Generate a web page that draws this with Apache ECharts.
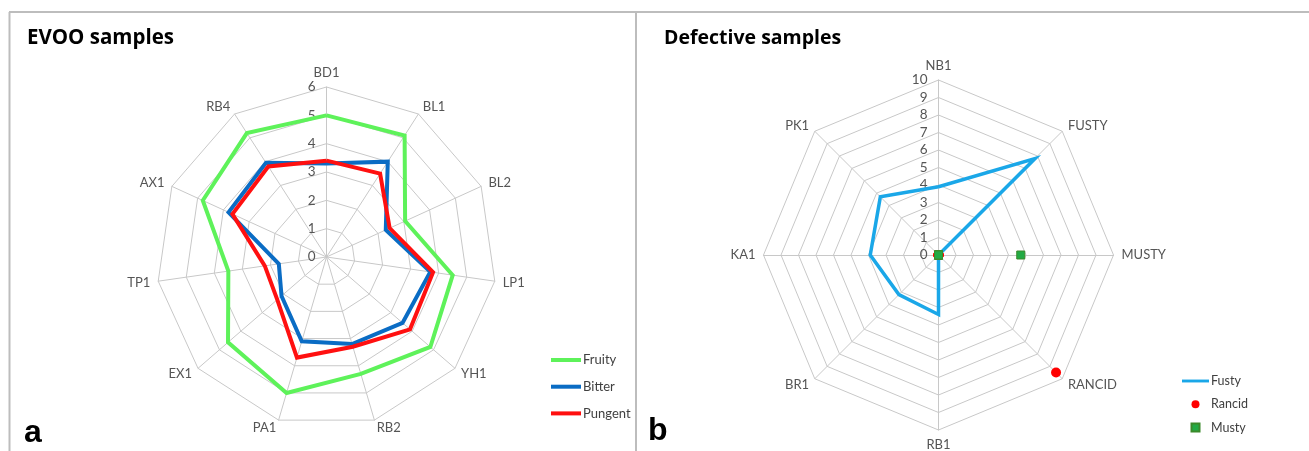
<!DOCTYPE html>
<html><head><meta charset="utf-8">
<script src="https://cdn.jsdelivr.net/npm/echarts@6/dist/echarts.min.js"></script>
<style>html,body{margin:0;padding:0;background:#fff}#c{width:1309px;height:451px}</style>
</head><body><div id="c"></div>
<script>
// ---- Panel a: EVOO samples (clockwise order, starting at top) ----
const evooAxes = ['BD1','BL1','BL2','LP1','YH1','RB2','PA1','EX1','TP1','AX1','RB4'];
const fruity  = [5.0, 5.1, 3.05, 4.5, 4.85, 4.3, 5.0, 4.6, 3.5, 4.8, 5.2];
const bitter  = [3.3, 4.0, 2.3, 3.7, 3.55, 3.2, 3.1, 2.1, 1.7, 3.8, 3.95];
const pungent = [3.4, 3.5, 2.45, 3.8, 3.9, 3.3, 3.7, 2.3, 2.2, 3.65, 3.8];
const evooMax = 6;

// ---- Panel b: Defective samples ----
const defAxes = ['NB1','FUSTY','MUSTY','RANCID','RB1','BR1','KA1','PK1'];
const fusty  = [3.9, 7.8, 0, 0, 3.4, 3.2, 3.9, 4.7];
const rancid = [0, 0, 0, 9.5, 0, 0, 0, 0];
const musty  = [0, 0, 4.7, 0, 0, 0, 0, 0];
const defMax = 10;

// ECharts radar runs counter-clockwise; reorder so it reads clockwise like the source
const ccw = a => [a[0]].concat(a.slice(1).reverse());

const gridColor = '#c8c8c8';
const labelColor = '#555555';

function indicators(names, max) {
  return ccw(names).map((n, i) => {
    const o = { name: n, min: 0, max: max };
    if (i === 0) o.axisLabel = { show: true };
    return o;
  });
}

const chart = echarts.init(document.getElementById('c'), null, { renderer: 'canvas' });

const baseRadar = {
  startAngle: 90,
  shape: 'polygon',
  axisName: { color: labelColor, fontFamily: 'Lato', fontSize: 13 },
  axisLine: { lineStyle: { color: gridColor, width: 1 } },
  splitLine: { lineStyle: { color: gridColor, width: 1 } },
  splitArea: { show: false },
  axisTick: { show: false },
  axisLabel: { show: false, color: labelColor, fontFamily: 'Lato', fontSize: 13.5, margin: 11 }
};

chart.setOption({
  animation: false,
  radar: [
    Object.assign({}, baseRadar, {
      center: [326.5, 257], radius: 170, splitNumber: 6, nameGap: 8,
      indicator: indicators(evooAxes, evooMax)
    }),
    Object.assign({}, baseRadar, {
      center: [938.5, 255], radius: 175, splitNumber: 10, nameGap: 8,
      indicator: indicators(defAxes, defMax)
    })
  ],
  legend: [
    {
      orient: 'vertical', left: 546, top: 348, itemWidth: 30, itemHeight: 4, itemGap: 12.7,
      icon: 'rect', selectedMode: false,
      textStyle: { fontFamily: 'Lato', fontSize: 13, color: '#404040', lineHeight: 14, padding: [0, 0, 0, -3] },
      data: ['Fruity', 'Bitter', 'Pungent']
    },
    {
      orient: 'vertical', left: 1177, top: 369, itemWidth: 27, itemHeight: 8, itemGap: 9.3,
      selectedMode: false, symbolKeepAspect: true,
      textStyle: { fontFamily: 'Lato', fontSize: 12.5, color: '#404040', lineHeight: 14, padding: [0, 0, 0, -3] },
      data: [
        { name: 'Fusty', icon: 'path://M0,0H28V3H0Z' },
        { name: 'Rancid', icon: 'circle' },
        { name: 'Musty', icon: 'path://M0,0H8V8H0Z' }
      ]
    }
  ],
  series: [
    {
      type: 'radar', radarIndex: 0, symbol: 'none',
      data: [
        { name: 'Fruity', value: ccw(fruity), lineStyle: { color: '#5ef25a', width: 4, join: 'miter' }, itemStyle: { color: '#5ef25a' } },
        { name: 'Bitter', value: ccw(bitter), lineStyle: { color: '#0a6cc4', width: 4, join: 'miter' }, itemStyle: { color: '#0a6cc4' } },
        { name: 'Pungent', value: ccw(pungent), lineStyle: { color: '#ff1010', width: 4, join: 'miter' }, itemStyle: { color: '#ff1010' } }
      ]
    },
    {
      type: 'radar', radarIndex: 1, symbol: 'none',
      data: [
        { name: 'Fusty', value: ccw(fusty), lineStyle: { color: '#1aa7e8', width: 3.5, join: 'miter' }, itemStyle: { color: '#1aa7e8' } }
      ]
    },
    {
      type: 'radar', radarIndex: 1, symbol: 'circle', symbolSize: 10,
      data: [
        { name: 'Rancid', value: ccw(rancid), lineStyle: { opacity: 0, width: 0 }, itemStyle: { color: '#ff0000', opacity: 1 } }
      ]
    },
    {
      type: 'radar', radarIndex: 1, symbol: 'rect', symbolSize: 8,
      data: [
        { name: 'Musty', value: ccw(musty), lineStyle: { opacity: 0, width: 0 }, itemStyle: { color: '#22aa44', borderColor: '#3a8a2a', borderWidth: 1, opacity: 1 } }
      ]
    }
  ],
  graphic: [
    { type: 'line', shape: { x1: 9, y1: 12, x2: 1309, y2: 12 }, style: { stroke: '#bdbdbd', lineWidth: 2 } },
    { type: 'line', shape: { x1: 9.5, y1: 12, x2: 9.5, y2: 451 }, style: { stroke: '#bdbdbd', lineWidth: 2 } },
    { type: 'line', shape: { x1: 636, y1: 12, x2: 636, y2: 451 }, style: { stroke: '#bdbdbd', lineWidth: 2 } },
    { type: 'text', left: 27, top: 28, style: { text: 'EVOO samples', font: 'bold 20.5px "Open Sans"', fill: '#000' } },
    { type: 'text', left: 664, top: 28, style: { text: 'Defective samples', font: 'bold 19.5px "Open Sans"', fill: '#000' } },
    { type: 'text', left: 24, top: 417, style: { text: 'a', font: 'bold 32px "Liberation Sans"', fill: '#000' } },
    { type: 'text', left: 648, top: 415, style: { text: 'b', font: 'bold 32px "Liberation Sans"', fill: '#000' } }
  ]
});
</script>
</body></html>
